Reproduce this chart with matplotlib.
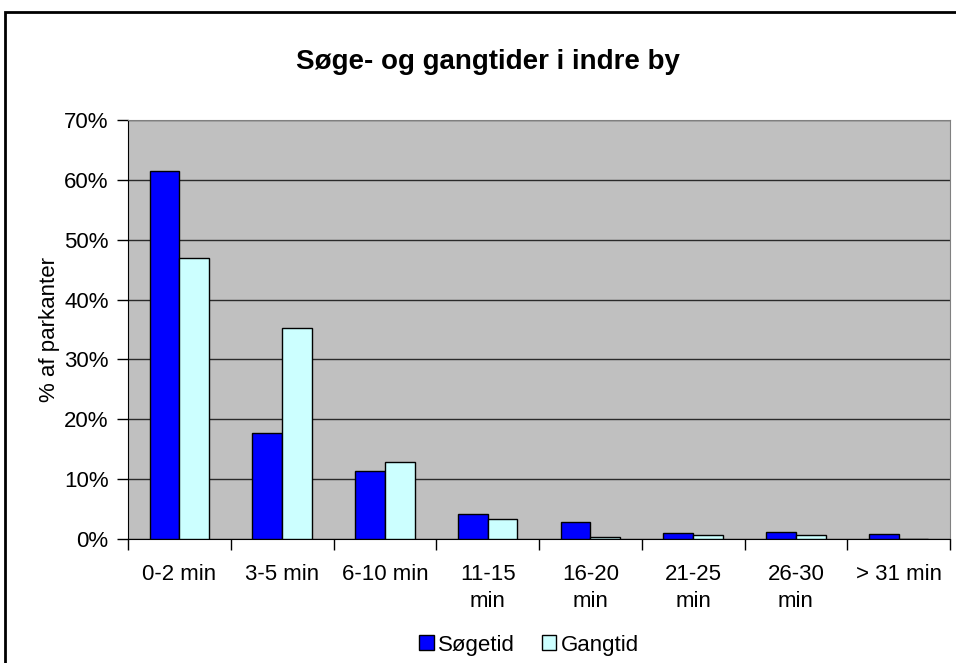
import matplotlib.pyplot as plt
import numpy as np
from matplotlib.patches import Rectangle
from matplotlib.ticker import FuncFormatter

categories = ["0-2 min", "3-5 min", "6-10 min", "11-15\nmin", "16-20\nmin",
              "21-25\nmin", "26-30\nmin", "> 31 min"]
soegetid = [61.5, 17.7, 11.4, 4.1, 2.9, 0.95, 1.1, 0.8]
gangtid = [47.0, 35.2, 12.9, 3.3, 0.4, 0.6, 0.6, 0.0]
y_ticks = [0, 10, 20, 30, 40, 50, 60, 70]

plt.rcParams["font.family"] = ["Liberation Sans", "DejaVu Sans"]

fig = plt.figure(figsize=(9.56, 6.63), dpi=100)
ax = fig.add_axes([128 / 956, 1 - 539 / 663, (950 - 128) / 956, (539 - 120) / 663])

# outer chart frame
fig.patches.append(Rectangle((5 / 956, -0.05), 1.1, 1 - 12 / 663 + 0.05,
                             transform=fig.transFigure, fill=False,
                             edgecolor="black", linewidth=2))

x = np.arange(len(categories))
w = 0.29
ax.set_facecolor("#C0C0C0")
ax.bar(x - w / 2, soegetid, w, color="#0000FF", edgecolor="black", linewidth=1,
       label="Søgetid", zorder=3)
ax.bar(x + w / 2, gangtid, w, color="#CCFFFF", edgecolor="black", linewidth=1,
       label="Gangtid", zorder=3)

ax.set_ylim(0, 70)
ax.set_xlim(-0.5, len(categories) - 0.5)
ax.set_yticks(y_ticks)
ax.yaxis.set_major_formatter(FuncFormatter(lambda v, p: f"{v:.0f}%"))
ax.yaxis.grid(True, color="#2a2a2a", linewidth=1)
ax.set_axisbelow(True)

ax.set_xticks(x)
ax.set_xticklabels(categories, fontsize=16, linespacing=1.4)
ax.set_xticks(np.arange(len(categories) + 1) - 0.5, minor=True)
ax.tick_params(axis="x", which="major", length=0, pad=18)
ax.tick_params(axis="x", which="minor", length=8, width=1, direction="out")
ax.tick_params(axis="y", length=8, width=1, labelsize=16, pad=6)

for side in ["top", "right"]:
    ax.spines[side].set_color("#808080")
ax.spines["left"].set_color("black")
ax.spines["bottom"].set_color("black")

ax.set_ylabel("% af parkanter", fontsize=16, labelpad=3)
fig.text(488 / 956, 1 - 62 / 663, "Søge- og gangtider i indre by", ha="center",
         va="center", fontsize=20, fontweight="bold")

fig.legend(loc="center", bbox_to_anchor=(529 / 956, 1 - 645 / 663), ncol=2,
           frameon=False, fontsize=16, handlelength=0.65, handleheight=0.65,
           handletextpad=0.2, columnspacing=1.2)

fig.savefig("out.png", dpi=100)
